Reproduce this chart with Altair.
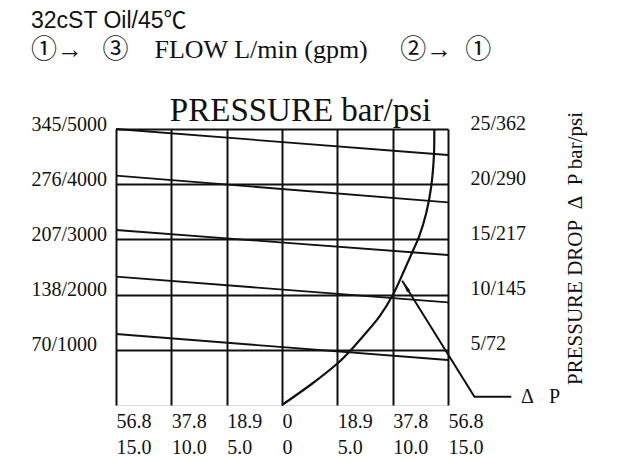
import altair as alt
import pandas as pd

NB = "\u00a0"  # non-breaking space keeps the wide gaps of the original labels

# ---------------- data ----------------
# flow axis in gpm (left half: 1->3, right half: 2->1)
flow_ticks_gpm = [-15, -10, -5, 0, 5, 10, 15]
flow_labels_lpm = ["56.8", "37.8", "18.9", "0", "18.9", "37.8", "56.8"]
flow_labels_gpm = ["15.0", "10.0", "5.0", "0", "5.0", "10.0", "15.0"]

# left axis: pressure (psi scale, labelled bar/psi)
pressure_ticks_psi = [1000, 2000, 3000, 4000, 5000]
pressure_labels = ["70/1000", "138/2000", "207/3000", "276/4000", "345/5000"]

# right axis: pressure drop (bar scale, labelled bar/psi)
dp_ticks_bar = [5, 10, 15, 20, 25]
dp_labels = ["5/72", "10/145", "15/217", "20/290", "25/362"]

# sloped pressure lines (psi at the left edge and at the right edge)
line_ids = [1, 2, 3, 4, 5]
line_start_psi = [5000, 4154, 3170, 2324, 1286]
line_end_psi = [4529, 3672, 2717, 1861, 815]
line_flow_start = -15
line_flow_end = 15

# pressure-drop curve (flow gpm, dP bar)
curve_flow_gpm = [0, 2.77, 5.03, 6.09, 7.29, 8.80, 10.01, 11.06, 11.74, 12.42, 13.03, 13.48, 13.73, 13.76]
curve_dp_bar = [0, 1.97, 3.78, 4.83, 6.19, 8.00, 9.96, 12.23, 13.77, 15.35, 17.36, 19.77, 22.65, 25.0]

# leader line for the "dP" callout
leader_flow_gpm = [20.72, 17.39, 10.86]
leader_dp_bar = [0.75, 0.75, 11.26]
arrow_flow_gpm = [11.24]
arrow_dp_bar = [10.64]
callout_flow_gpm = [21.6]
callout_dp_bar = [0.75]
callout_text = ["Δ" + NB * 3 + "P"]

title_line1 = "32cST Oil/45℃"
title_line2 = ("①→" + NB * 3 + "③" + NB * 4 + "FLOW L/min (gpm)" + NB * 5
               + "②→" + NB * 2 + "①")
top_title = "PRESSURE bar/psi"
right_title = "PRESSURE DROP" + NB * 2 + "Δ" + NB * 2 + "P bar/psi"

SERIF = "'Liberation Serif', 'Noto Sans CJK SC', serif"
SANS = "'Liberation Sans', 'Noto Sans CJK SC', sans-serif"
INK = "#111111"

# ---------------- tables ----------------
rows = []
for i, a, b in zip(line_ids, line_start_psi, line_end_psi):
    rows.append({"id": i, "flow": line_flow_start, "psi": a})
    rows.append({"id": i, "flow": line_flow_end, "psi": b})
lines_df = pd.DataFrame(rows)

curve_df = pd.DataFrame({"flow": curve_flow_gpm, "dp": curve_dp_bar,
                         "o": list(range(len(curve_flow_gpm)))})
leader_df = pd.DataFrame({"flow": leader_flow_gpm, "dp": leader_dp_bar,
                          "o": list(range(len(leader_flow_gpm)))})
arrow_df = pd.DataFrame({"flow": arrow_flow_gpm, "dp": arrow_dp_bar})
callout_df = pd.DataFrame({"flow": callout_flow_gpm, "dp": callout_dp_bar, "t": callout_text})


def label_expr(values, labels):
    expr = "''"
    for v, lab in reversed(list(zip(values, labels))):
        expr = f"datum.value == {v} ? {lab} : ({expr})"
    return expr


x_lab = label_expr(flow_ticks_gpm,
                   [f"['{a}', '{b}']" for a, b in zip(flow_labels_lpm, flow_labels_gpm)])
y_lab = label_expr(pressure_ticks_psi, [f"'{s}'" for s in pressure_labels])
dp_lab = label_expr(dp_ticks_bar, [f"'{s}'" for s in dp_labels])

flow_scale = alt.Scale(domain=[-15, 15], nice=False, zero=False)

# ---------------- pressure layer (grid, left axis, top title) ----------------
x_top = alt.X("flow:Q", scale=flow_scale,
              axis=alt.Axis(orient="top", values=flow_ticks_gpm, labels=False, ticks=False,
                            domain=False, grid=True, gridColor=INK, gridWidth=2, gridOpacity=1,
                            title=top_title, titleFont=SERIF, titleFontSize=33,
                            titleFontWeight="normal", titleColor=INK, titleAlign="center",
                            titleBaseline="alphabetic", titleX=184, titleY=-9))
y_left = alt.Y("psi:Q", scale=alt.Scale(domain=[0, 5000], nice=False),
               axis=alt.Axis(orient="left", values=pressure_ticks_psi, labelExpr=y_lab,
                             ticks=False, domain=False, grid=True, gridColor=INK,
                             gridWidth=2, gridOpacity=1, labelFont=SERIF, labelFontSize=20,
                             labelColor=INK, labelAlign="left", labelPadding=85,
                             labelBaseline="middle", labelOffset=-5, labelFlush=False,
                             labelOverlap=False, title=None))
pressure_layer = alt.Chart(lines_df).mark_line(color=INK, strokeWidth=1.8).encode(
    x=x_top, y=y_left, detail="id:N")

# ---------------- pressure-drop layer ----------------
x_bottom = alt.X("flow:Q", scale=flow_scale,
                 axis=alt.Axis(orient="bottom", values=flow_ticks_gpm, labelExpr=x_lab,
                               ticks=False, domain=False, grid=False, labelFont=SERIF,
                               labelFontSize=20, labelColor=INK, labelAlign="left",
                               labelBaseline="top", labelPadding=6, labelLineHeight=26,
                               labelFlush=False, labelOverlap=False, title=None))
y_right = alt.Y("dp:Q", scale=alt.Scale(domain=[0, 25], nice=False),
                axis=alt.Axis(orient="right", values=dp_ticks_bar, labelExpr=dp_lab,
                              ticks=False, domain=False, grid=False, labelFont=SERIF,
                              labelFontSize=20, labelColor=INK, labelAlign="left",
                              labelPadding=22, labelBaseline="middle", labelOffset=-6,
                              labelFlush=False, labelOverlap=False,
                              title=right_title, titleFont=SERIF, titleFontSize=21,
                              titleFontWeight="normal", titleColor=INK, titleAngle=270,
                              titleAlign="center", titleBaseline="middle",
                              titleX=127, titleY=119))

curve = alt.Chart(curve_df).mark_line(color=INK, strokeWidth=2.2, interpolate="catmull-rom").encode(
    x=x_bottom, y=y_right, order="o:Q")
leader = alt.Chart(leader_df).mark_line(color=INK, strokeWidth=2).encode(
    x=x_bottom, y=y_right, order="o:Q")
arrow = alt.Chart(arrow_df).mark_point(shape="wedge", filled=True, color=INK, size=220,
                                       angle=328, opacity=1).encode(x=x_bottom, y=y_right)
callout = alt.Chart(callout_df).mark_text(font=SERIF, fontSize=20, color=INK, align="left",
                                          baseline="middle").encode(
    x=x_bottom, y=y_right, text="t:N")

dp_layer = alt.layer(curve, leader, arrow, callout)

chart = alt.layer(pressure_layer, dp_layer).resolve_scale(
    x="independent", y="independent"
).properties(
    width=332, height=276,
    autosize=alt.AutoSizeParams(type="none"),
    padding={"left": 108, "top": 121, "right": 160, "bottom": 52},
    title=alt.TitleParams(text=title_line1, subtitle=title_line2, anchor="start",
                          frame="group", dx=-85, font=SANS, fontSize=23,
                          fontWeight="normal", color=INK, subtitleFont=SERIF,
                          subtitleFontSize=26, subtitleColor=INK, subtitlePadding=4,
                          offset=31)
).configure_view(stroke=INK, strokeWidth=2).configure(background="white")

chart.save("out.html", embed_options={"renderer": "svg", "actions": False})
